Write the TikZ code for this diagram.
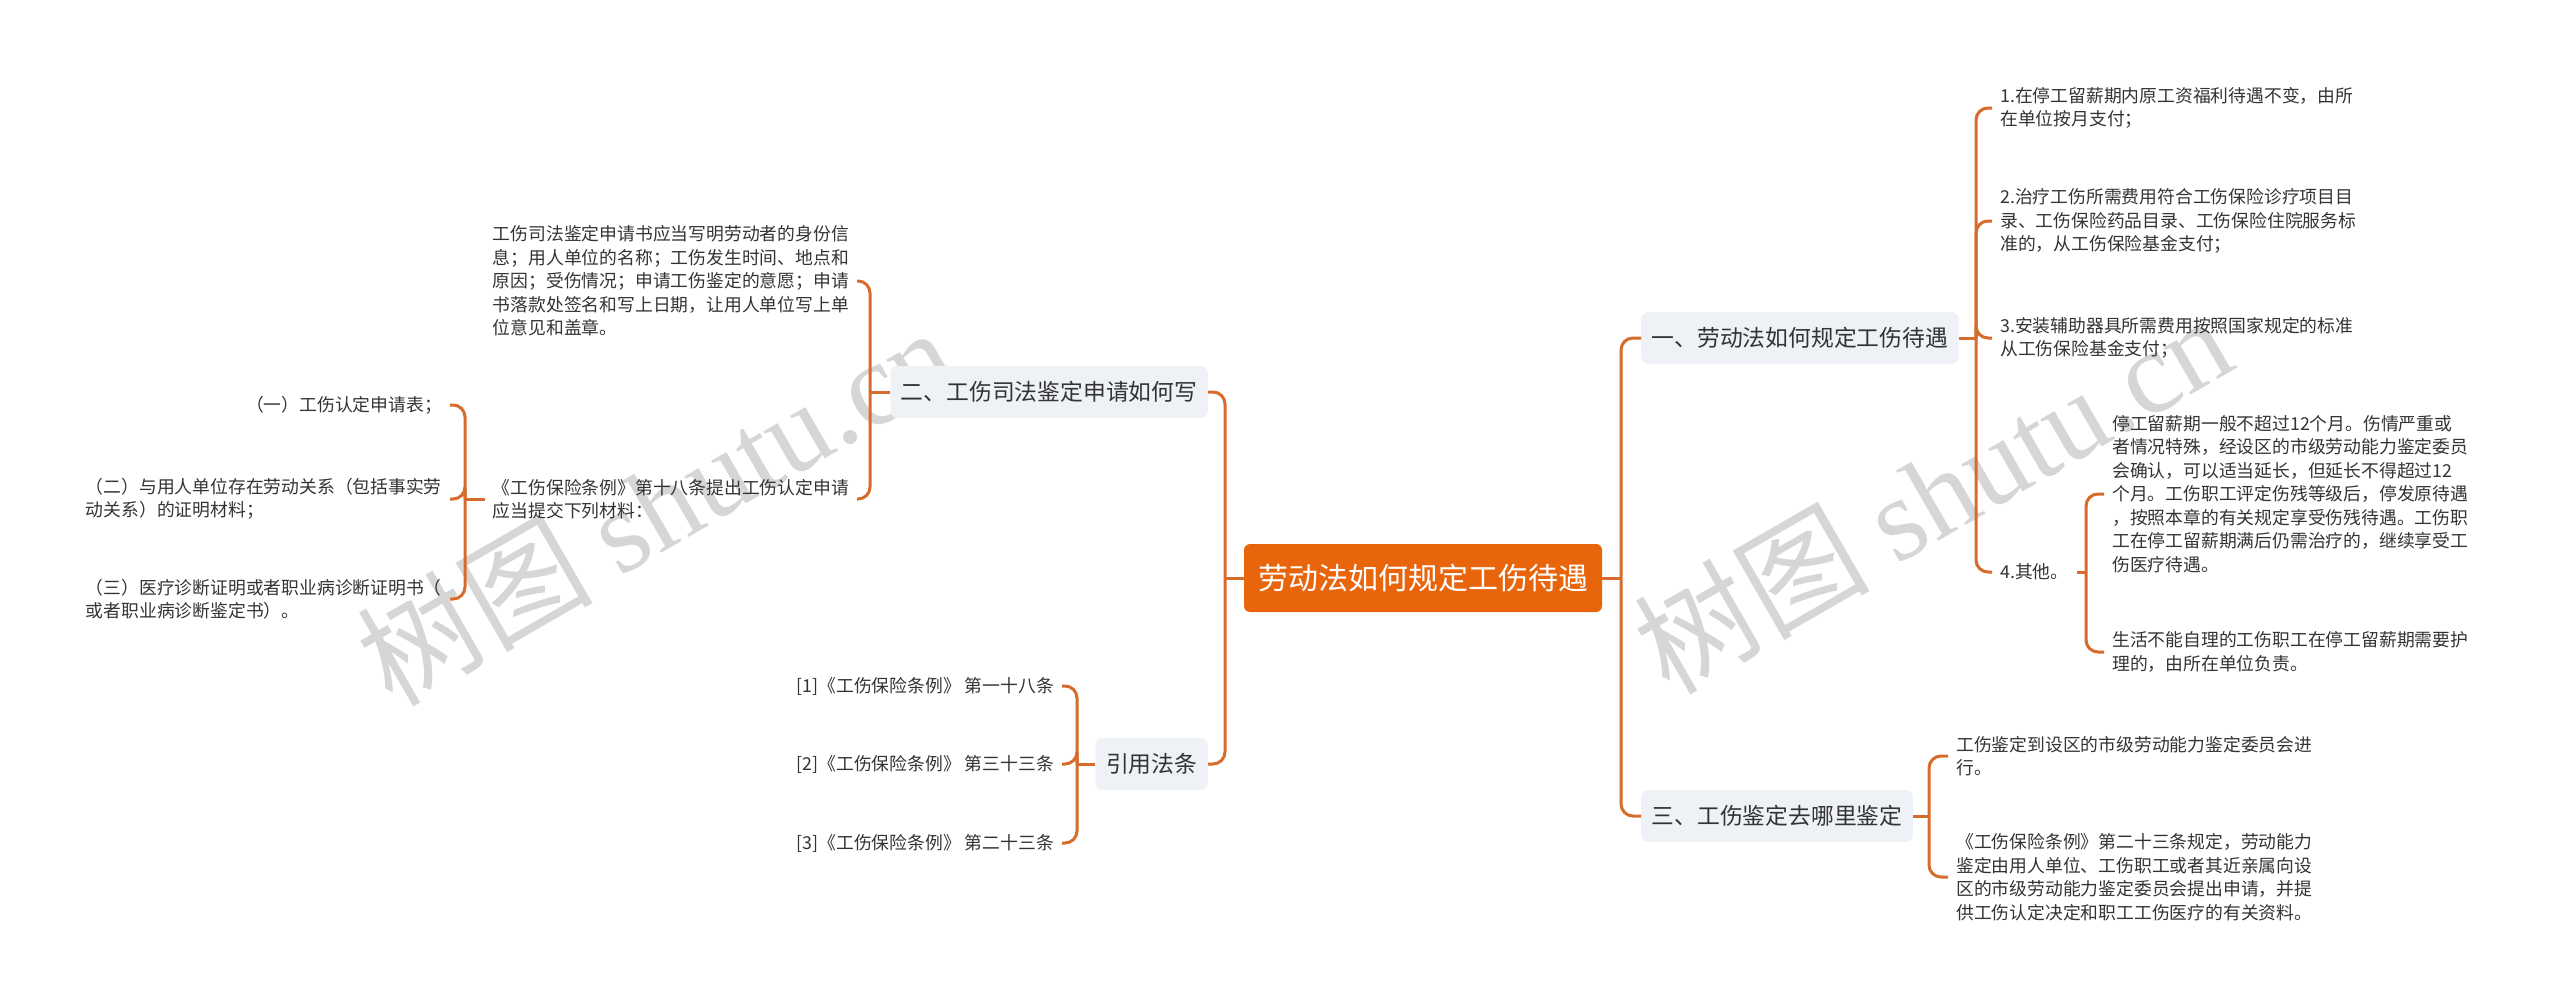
\documentclass[tikz,border=0pt]{standalone}
\usepackage{fontspec}
\setmainfont{Noto Sans CJK SC}
\newfontfamily\wmfont{Liberation Serif}
\usetikzlibrary{calc}
\definecolor{myorange}{RGB}{233,101,12}
\definecolor{mylink}{RGB}{214,107,44}
\definecolor{mygrey}{RGB}{238,241,245}
\definecolor{mytext}{RGB}{51,51,51}
\definecolor{mywater}{RGB}{214,214,214}
\tikzset{>=latex}
\tikzset{
  rootbox/.style={fill=myorange, text=white, rounded corners=6pt, minimum height=68pt, inner xsep=14pt, font=\fontsize{30}{36}\selectfont},
  topic/.style={fill=mygrey, text=mytext, rounded corners=7pt, minimum height=52pt, inner xsep=10.5pt, font=\fontsize{22.8}{28}\selectfont},
  leaf/.style={text=mytext, align=left, inner xsep=8pt, inner ysep=0pt, font=\fontsize{17.8}{23.5}\selectfont},
  link/.style={draw=mylink, line width=3pt, rounded corners=12pt},
  water/.style={text=mywater, rotate=30, font=\fontsize{118}{118}\selectfont}
}

\begin{document}
\begin{tikzpicture}[x=1pt, y=-1pt]
\useasboundingbox (0,0) rectangle (2560,1007);
\node[water] (wmleft) at (655,505) {树图 {\wmfont shutu.cn}};
\node[water] (wmright) at (1932,493) {树图 {\wmfont shutu.cn}};

\node[rootbox] (root) at (1423,578) {劳动法如何规定工伤待遇};
\node[topic, anchor=east] (two) at (1208,392) {二、工伤司法鉴定申请如何写};
\node[topic, anchor=east] (cite) at (1208,764) {引用法条};
\node[topic, anchor=west] (one) at (1641,338) {一、劳动法如何规定工伤待遇};
\node[topic, anchor=west] (three) at (1641,816) {三、工伤鉴定去哪里鉴定};

\coordinate (jl) at (1225,578);
\coordinate (jr) at (1621,578);
\draw[link] (root.west) -- (jl);
\draw[link] (jl) |- (two.east);
\draw[link] (jl) |- (cite.east);
\draw[link] (root.east) -- (jr);
\draw[link] (jr) |- (one.west);
\draw[link] (jr) |- (three.west);

% left side
\node[leaf, anchor=east] (form) at (857,281) {工伤司法鉴定申请书应当写明劳动者的身份信\\息；用人单位的名称；工伤发生时间、地点和\\原因；受伤情况；申请工伤鉴定的意愿；申请\\书落款处签名和写上日期，让用人单位写上单\\位意见和盖章。};
\node[leaf, anchor=east] (mat) at (857,499) {《工伤保险条例》第十八条提出工伤认定申请\\应当提交下列材料：};
\coordinate (jtwo) at (870,392);
\draw[link] (two.west) -- (jtwo);
\draw[link] (jtwo) |- (form.east);
\draw[link] (jtwo) |- (mat.east);

\node[leaf, anchor=east] (mat1) at (450,405) {（一）工伤认定申请表；};
\node[leaf, anchor=east] (mat2) at (450,499) {（二）与用人单位存在劳动关系（包括事实劳\\动关系）的证明材料；};
\node[leaf, anchor=east] (mat3) at (450,599) {（三）医疗诊断证明或者职业病诊断证明书（\\或者职业病诊断鉴定书）。};
\coordinate (jmat) at (465,499);
\draw[link] (mat.west) -- (jmat);
\draw[link] (jmat) |- (mat1.east);
\draw[link] (jmat) |- (mat2.east);
\draw[link] (jmat) |- (mat3.east);

\node[leaf, anchor=east] (law1) at (1062,686) {[1]《工伤保险条例》 第一十八条};
\node[leaf, anchor=east] (law2) at (1062,764) {[2]《工伤保险条例》 第三十三条};
\node[leaf, anchor=east] (law3) at (1062,843) {[3]《工伤保险条例》 第二十三条};
\coordinate (jcite) at (1077,764);
\draw[link] (cite.west) -- (jcite);
\draw[link] (jcite) |- (law1.east);
\draw[link] (jcite) |- (law2.east);
\draw[link] (jcite) |- (law3.east);

% right side
\node[leaf, anchor=west] (pay1) at (1992,108) {1.在停工留薪期内原工资福利待遇不变，由所\\在单位按月支付；};
\node[leaf, anchor=west] (pay2) at (1992,221) {2.治疗工伤所需费用符合工伤保险诊疗项目目\\录、工伤保险药品目录、工伤保险住院服务标\\准的，从工伤保险基金支付；};
\node[leaf, anchor=west] (pay3) at (1992,338) {3.安装辅助器具所需费用按照国家规定的标准\\从工伤保险基金支付；};
\node[leaf, anchor=west] (pay4) at (1992,572) {4.其他。};
\coordinate (jone) at (1976,338);
\draw[link] (one.east) -- (jone);
\draw[link] (jone) |- (pay1.west);
\draw[link] (jone) |- (pay2.west);
\draw[link] (jone) |- (pay3.west);
\draw[link] (jone) |- (pay4.west);

\node[leaf, anchor=west] (other1) at (2104,494) {停工留薪期一般不超过12个月。伤情严重或\\者情况特殊，经设区的市级劳动能力鉴定委员\\会确认，可以适当延长，但延长不得超过12\\个月。工伤职工评定伤残等级后，停发原待遇\\，按照本章的有关规定享受伤残待遇。工伤职\\工在停工留薪期满后仍需治疗的，继续享受工\\伤医疗待遇。};
\node[leaf, anchor=west] (other2) at (2104,652) {生活不能自理的工伤职工在停工留薪期需要护\\理的，由所在单位负责。};
\coordinate (jother) at (2086,572);
\draw[link] (pay4.east) -- (jother);
\draw[link] (jother) |- (other1.west);
\draw[link] (jother) |- (other2.west);

\node[leaf, anchor=west] (where1) at (1948,756) {工伤鉴定到设区的市级劳动能力鉴定委员会进\\行。};
\node[leaf, anchor=west] (where2) at (1948,877) {《工伤保险条例》第二十三条规定，劳动能力\\鉴定由用人单位、工伤职工或者其近亲属向设\\区的市级劳动能力鉴定委员会提出申请，并提\\供工伤认定决定和职工工伤医疗的有关资料。};
\coordinate (jthree) at (1929,816);
\draw[link] (three.east) -- (jthree);
\draw[link] (jthree) |- (where1.west);
\draw[link] (jthree) |- (where2.west);
\end{tikzpicture}
\end{document}
